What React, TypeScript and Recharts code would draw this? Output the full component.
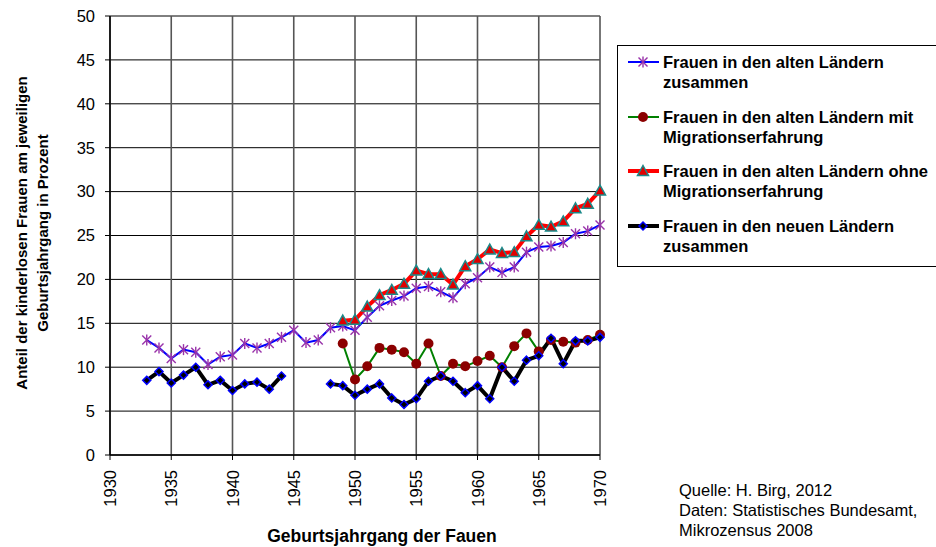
import React from 'react';
import { LineChart, Line, XAxis, YAxis, CartesianGrid } from 'recharts';

const years = [
  1933, 1934, 1935, 1936, 1937, 1938, 1939, 1940, 1941, 1942, 1943, 1944, 1945, 1946, 1947, 1948, 1949,
  1950, 1951, 1952, 1953, 1954, 1955, 1956, 1957, 1958, 1959, 1960, 1961, 1962, 1963, 1964, 1965, 1966,
  1967, 1968, 1969, 1970,
];

// Frauen in den alten Ländern zusammen
const altZusammen = [
  13.1, 12.2, 11.0, 12.0, 11.7, 10.3, 11.2, 11.4, 12.7, 12.2, 12.7, 13.4, 14.2, 12.8, 13.1, 14.5, 14.7,
  14.2, 15.7, 17.0, 17.6, 18.1, 19.0, 19.2, 18.6, 17.9, 19.5, 20.2, 21.4, 20.8, 21.4, 23.1, 23.7, 23.8,
  24.2, 25.2, 25.5, 26.2,
];

// Frauen in den alten Ländern mit Migrationserfahrung
const altMit = [
  null, null, null, null, null, null, null, null, null, null, null, null, null, null, null, null, 12.7,
  8.6, 10.1, 12.2, 12.0, 11.7, 10.4, 12.7, 9.0, 10.4, 10.1, 10.7, 11.3, 10.0, 12.4, 13.85, 11.8, 13.1,
  12.9, 12.8, 13.1, 13.7,
];

// Frauen in den alten Ländern ohne Migrationserfahrung
const altOhne = [
  null, null, null, null, null, null, null, null, null, null, null, null, null, null, null, null, 15.3,
  15.4, 16.9, 18.2, 18.8, 19.5, 21.0, 20.6, 20.6, 19.4, 21.5, 22.3, 23.4, 23.0, 23.1, 24.9, 26.2, 26.0,
  26.6, 28.1, 28.6, 30.1,
];

// Frauen in den neuen Ländern zusammen
const neuZusammen = [
  8.5, 9.5, 8.2, 9.1, 10.0, 8.0, 8.5, 7.35, 8.1, 8.3, 7.5, 9.0, null, null, null, 8.1, 7.9,
  6.8, 7.5, 8.1, 6.5, 5.75, 6.4, 8.4, 9.0, 8.4, 7.1, 7.9, 6.4, 10.0, 8.4, 10.8, 11.3, 13.3,
  10.4, 13.0, 13.0, 13.4,
];

const xTicks = [1930, 1935, 1940, 1945, 1950, 1955, 1960, 1965, 1970];
const yTicks = [0, 5, 10, 15, 20, 25, 30, 35, 40, 45, 50];

const seriesNames = [
  ['Frauen in den alten Ländern', 'zusammen'],
  ['Frauen in den alten Ländern mit', 'Migrationserfahrung'],
  ['Frauen in den alten Ländern ohne', 'Migrationserfahrung'],
  ['Frauen in den neuen Ländern', 'zusammen'],
];

const data = years.map((year, i) => ({
  year,
  altZusammen: altZusammen[i],
  altMit: altMit[i],
  altOhne: altOhne[i],
  neuZusammen: neuZusammen[i],
}));

const FONT = '"Liberation Sans", Arial, sans-serif';

const Star = ({ cx, cy }: any) => {
  if (cx == null || cy == null) return null;
  const r = 4.5;
  return (
    <g stroke="#9933aa" strokeWidth={1.4}>
      <line x1={cx - r} y1={cy - r} x2={cx + r} y2={cy + r} />
      <line x1={cx - r} y1={cy + r} x2={cx + r} y2={cy - r} />
      <line x1={cx} y1={cy - r - 1} x2={cx} y2={cy + r + 1} />
    </g>
  );
};

const Circle = ({ cx, cy }: any) => {
  if (cx == null || cy == null) return null;
  return <circle cx={cx} cy={cy} r={5} fill="#8b0000" />;
};

const Triangle = ({ cx, cy }: any) => {
  if (cx == null || cy == null) return null;
  const r = 5.5;
  return (
    <polygon
      points={`${cx},${cy - r} ${cx + r},${cy + r * 0.8} ${cx - r},${cy + r * 0.8}`}
      fill="#e00000"
      stroke="#1a8a8a"
      strokeWidth={1.5}
    />
  );
};

const Diamond = ({ cx, cy }: any) => {
  if (cx == null || cy == null) return null;
  const r = 4;
  return (
    <polygon
      points={`${cx},${cy - r} ${cx + r},${cy} ${cx},${cy + r} ${cx - r},${cy}`}
      fill="#000"
      stroke="#0000ff"
      strokeWidth={1.5}
    />
  );
};

const XTick = ({ x, y, payload }: any) => (
  <text
    x={x}
    y={y + 8}
    transform={`rotate(-90, ${x}, ${y + 8})`}
    textAnchor="end"
    dominantBaseline="central"
    fontSize={16.5}
    fontFamily={FONT}
    fill="#000"
  >
    {payload.value}
  </text>
);

const legendItems = [
  { color: '#0000ff', width: 2, Marker: Star },
  { color: '#008000', width: 2, Marker: Circle },
  { color: '#ff0000', width: 4, Marker: Triangle },
  { color: '#000000', width: 4, Marker: Diamond },
];
const legendRows = [62, 117, 171, 226];

export default function App() {
  return (
    <div style={{ position: 'absolute', left: 0, top: 0, width: 936, height: 547, background: '#fff', overflow: 'hidden', fontFamily: FONT }}>
      <LineChart width={936} height={547} data={data} margin={{ top: 16, right: 336, left: 50, bottom: 42 }}>
        <CartesianGrid horizontal={true} vertical={false} stroke="#000" strokeWidth={1} />
        <CartesianGrid horizontal={false} vertical={true} stroke="#555" strokeWidth={1.6} />
        <XAxis
          dataKey="year"
          type="number"
          domain={[1930, 1970]}
          ticks={xTicks}
          interval={0}
          height={50}
          tick={<XTick />}
          tickSize={5}
          axisLine={{ stroke: '#000', strokeWidth: 1.5 }}
          tickLine={{ stroke: '#000' }}
        />
        <YAxis
          domain={[0, 50]}
          ticks={yTicks}
          interval={0}
          width={60}
          tickSize={5}
          tickMargin={10}
          tick={{ fontSize: 16.5, fill: '#000', fontFamily: FONT }}
          axisLine={{ stroke: '#000', strokeWidth: 1.5 }}
          tickLine={{ stroke: '#000' }}
        />
        <Line dataKey="altZusammen" stroke="#0000ff" strokeWidth={2} dot={<Star />} isAnimationActive={false} connectNulls={false} />
        <Line dataKey="altMit" stroke="#008000" strokeWidth={2} dot={<Circle />} isAnimationActive={false} connectNulls={false} />
        <Line dataKey="altOhne" stroke="#ff0000" strokeWidth={4} dot={<Triangle />} isAnimationActive={false} connectNulls={false} />
        <Line dataKey="neuZusammen" stroke="#000000" strokeWidth={4} dot={<Diamond />} isAnimationActive={false} connectNulls={false} />
      </LineChart>

      <svg width={936} height={547} style={{ position: 'absolute', left: 0, top: 0, pointerEvents: 'none' }}>
        <g fontFamily={FONT} fontWeight="bold" fontSize={15} fill="#000" textAnchor="middle">
          <text x={21} y={233} transform="rotate(-90, 21, 233)" dominantBaseline="central">
            Anteil der kinderlosen Frauen am jeweiligen
          </text>
          <text x={42} y={233} transform="rotate(-90, 42, 233)" dominantBaseline="central">
            Geburtsjahrgang in Prozent
          </text>
        </g>
        <text x={382} y={536} dominantBaseline="central" textAnchor="middle" fontFamily={FONT} fontWeight="bold" fontSize={17.5}>
          Geburtsjahrgang der Fauen
        </text>
        <g fontFamily={FONT} fontSize={16.5} fill="#000">
          <text x={679} y={490} dominantBaseline="central">Quelle: H. Birg, 2012</text>
          <text x={679} y={510} dominantBaseline="central">Daten: Statistisches Bundesamt,</text>
          <text x={679} y={530} dominantBaseline="central">Mikrozensus 2008</text>
        </g>
        <rect x={617.5} y={45.5} width={330} height={221} fill="none" stroke="#000" strokeWidth={1} />
        {legendItems.map((item, i) => {
          const cy = legendRows[i];
          const M = item.Marker;
          return (
            <g key={i}>
              <line x1={628} y1={cy} x2={659} y2={cy} stroke={item.color} strokeWidth={item.width} />
              <M cx={643} cy={cy} />
              <text x={663} y={cy} dominantBaseline="central" fontFamily={FONT} fontWeight="bold" fontSize={16.5}>
                {seriesNames[i][0]}
              </text>
              <text x={663} y={cy + 20} dominantBaseline="central" fontFamily={FONT} fontWeight="bold" fontSize={16.5}>
                {seriesNames[i][1]}
              </text>
            </g>
          );
        })}
      </svg>
    </div>
  );
}
